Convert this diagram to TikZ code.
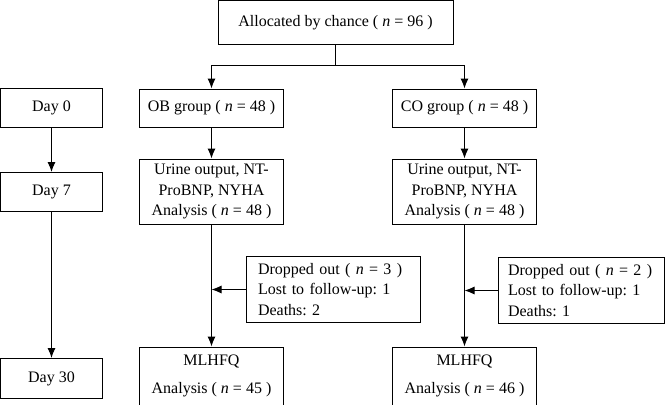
\documentclass[tikz,border=0pt]{standalone}
\usepackage{fontspec}
\setmainfont{Liberation Serif}
\usetikzlibrary{positioning, arrows.meta}
\frenchspacing

\begin{document}
\begin{tikzpicture}[x=1pt, y=1pt, >={Latex[length=10pt, width=8pt]}, line width=1pt,
  box/.style={draw, rectangle, inner sep=0pt, align=center, font=\fontsize{16}{20.5}\selectfont},
  daybox/.style={box, minimum width=102pt, minimum height=39pt},
  groupbox/.style={box, minimum width=144pt, minimum height=38pt},
  dropbox/.style={box, align=left, inner xsep=12pt, minimum height=66pt}]
  % Rahmen
  \fill[white] (0,0) rectangle (666,-404);
  \useasboundingbox (0,0) rectangle (666,-404);

  % Zufallszuteilung oben
  \node[box, minimum width=235pt, minimum height=44.5pt] (alloc) at (335.5,-22.75) {Allocated by chance ( \textit{n} = 96 )};

  % Zeitachse links
  \node[daybox] (day0) at (51.5,-108) {Day 0};
  \node[daybox, below=44pt of day0] (day7) {Day 7};
  \node[daybox, below=146pt of day7, minimum height=40pt] (day30) {Day 30};

  % Gruppen
  \node[groupbox, right=36pt of day0] (ob) {OB group ( \textit{n} = 48 )};
  \node[groupbox, right=108pt of ob] (co) {CO group ( \textit{n} = 48 )};

  \node[box, minimum width=144pt, minimum height=65pt, below=31pt of ob] (urineob) {Urine output, NT-\\ProBNP, NYHA\\Analysis ( \textit{n} = 48 )};
  \node[box, minimum width=144pt, minimum height=65pt, below=31pt of co] (urineco) {Urine output, NT-\\ProBNP, NYHA\\Analysis ( \textit{n} = 48 )};

  \node[box, minimum width=144pt, minimum height=58pt, below=122pt of urineob] (mlob) {MLHFQ\\[8pt]Analysis ( \textit{n} = 45 )};
  \node[box, minimum width=144pt, minimum height=58pt, below=122pt of urineco] (mlco) {MLHFQ\\[8pt]Analysis ( \textit{n} = 46 )};

  % Studienabbrecher
  \node[dropbox, text width=150pt] (dropob) at (333,-289.5) {Dropped out ( \textit{n} = 3 )\\Lost to follow-up: 1\\Deaths: 2};
  \node[dropbox, text width=146pt, inner xsep=10pt] (dropco) at (581,-290.5) {Dropped out ( \textit{n} = 2 )\\Lost to follow-up: 1\\Deaths: 1};

  % Verbindungen
  \draw[->] (alloc.south) -- ++(0,-20) -| (ob);
  \draw[->] (alloc.south) -- ++(0,-20) -| (co);
  \draw[->] (day0) -- (day7);
  \draw[->] (day7) -- (day30);
  \draw[->] (ob) -- (urineob);
  \draw[->] (co) -- (urineco);
  \draw[->] (urineob) -- (mlob);
  \draw[->] (urineco) -- (mlco);
  \draw[->] (dropob.west) -- (dropob.west -| urineob.south);
  \draw[->] (dropco.west) -- (dropco.west -| urineco.south);
\end{tikzpicture}
\end{document}
